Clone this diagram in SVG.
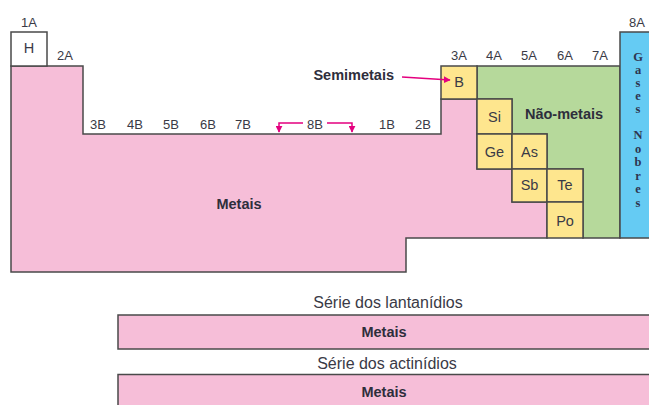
<svg xmlns="http://www.w3.org/2000/svg" width="649" height="405" viewBox="0 0 649 405">
<defs>
<marker id="ah" viewBox="0 0 10 10" refX="9" refY="5" markerWidth="7" markerHeight="7" markerUnits="userSpaceOnUse" orient="auto">
<path d="M0,0 L10,5 L0,10 Z" fill="#e4007f"/>
</marker>
<style>
.ol{stroke:#4a4a4a;stroke-width:1.5;stroke-linejoin:miter}
.pink{fill:#f6bed8}
.green{fill:#b6d99b}
.yellow{fill:#fee68e}
.blue{fill:#65cbf3}
.grp{font-family:"Liberation Sans",Arial,sans-serif;font-size:13px;fill:#3a3a46;text-anchor:middle}
.sym{font-family:"Liberation Sans",Arial,sans-serif;font-size:14.5px;fill:#3a3a46;text-anchor:middle}
.bold{font-family:"Liberation Sans",Arial,sans-serif;font-size:14.5px;font-weight:bold;fill:#2e2e3c;text-anchor:middle}
.ser{font-family:"Liberation Sans",Arial,sans-serif;font-size:16px;fill:#3a3a46;text-anchor:middle}
.vert{font-family:"Liberation Serif","Times New Roman",serif;font-size:12.5px;font-weight:bold;fill:#2e3550;text-anchor:middle}
.arr{fill:none;stroke:#e4007f;stroke-width:1.5}
</style>
</defs>
<rect width="649" height="405" fill="#ffffff"/>

<g id="metais">
<path class="pink ol" d="M11,66 H83 V134 H441 V99 H477 V169 H512 V202 H547 V238 H406 V272 H11 Z"/>
<text class="bold" x="239" y="209">Metais</text>
</g>

<g id="nao-metais">
<path class="green ol" d="M477,66 H620 V238 H583 V169 H547 V134 H512 V99 H477 Z"/>
<text class="bold" x="564" y="119">Não-metais</text>
</g>

<g id="gases-nobres">
<rect class="blue ol" x="620" y="32" width="40" height="206"/>
<text class="vert" x="638" y="61">G</text>
<text class="vert" x="638" y="74">a</text>
<text class="vert" x="638" y="87">s</text>
<text class="vert" x="638" y="100">e</text>
<text class="vert" x="638" y="113">s</text>
<text class="vert" x="638" y="139">N</text>
<text class="vert" x="638" y="152.5">o</text>
<text class="vert" x="638" y="166">b</text>
<text class="vert" x="638" y="179.5">r</text>
<text class="vert" x="638" y="193">e</text>
<text class="vert" x="638" y="206.5">s</text>
</g>

<g id="H">
<rect class="ol" fill="#ffffff" x="11" y="32" width="36" height="34"/>
<text class="sym" x="29" y="53">H</text>
</g>

<g id="B"><rect class="yellow ol" x="441" y="66" width="36" height="33"/><text class="sym" x="459" y="87">B</text></g>
<g id="Si"><rect class="yellow ol" x="477" y="99" width="35" height="35"/><text class="sym" x="494.5" y="121.5">Si</text></g>
<g id="Ge"><rect class="yellow ol" x="477" y="134" width="35" height="35"/><text class="sym" x="494.5" y="157">Ge</text></g>
<g id="As"><rect class="yellow ol" x="512" y="134" width="35" height="35"/><text class="sym" x="529.5" y="157">As</text></g>
<g id="Sb"><rect class="yellow ol" x="512" y="169" width="35" height="33"/><text class="sym" x="529.5" y="190">Sb</text></g>
<g id="Te"><rect class="yellow ol" x="547" y="169" width="36" height="33"/><text class="sym" x="565" y="190">Te</text></g>
<g id="Po"><rect class="yellow ol" x="547" y="202" width="36" height="36"/><text class="sym" x="565" y="226">Po</text></g>

<g id="grupos">
<text class="grp" x="29" y="27">1A</text>
<text class="grp" x="65" y="60">2A</text>
<text class="grp" x="98" y="129">3B</text>
<text class="grp" x="135" y="129">4B</text>
<text class="grp" x="171" y="129">5B</text>
<text class="grp" x="208" y="129">6B</text>
<text class="grp" x="243" y="129">7B</text>
<text class="grp" x="315" y="129">8B</text>
<text class="grp" x="387" y="129">1B</text>
<text class="grp" x="423" y="129">2B</text>
<text class="grp" x="459" y="60">3A</text>
<text class="grp" x="494" y="60">4A</text>
<text class="grp" x="529" y="60">5A</text>
<text class="grp" x="565" y="60">6A</text>
<text class="grp" x="600" y="60">7A</text>
<text class="grp" x="637" y="27">8A</text>
</g>

<g id="semimetais-label">
<text class="bold" x="394" y="80" style="text-anchor:end">Semimetais</text>
</g>

<g id="lantanidios">
<text class="ser" x="388" y="308">Série dos lantanídios</text>
<rect class="pink ol" x="118" y="315" width="545" height="34"/>
<text class="bold" x="384" y="337">Metais</text>
</g>

<g id="actinidios">
<text class="ser" x="387" y="369">Série dos actinídios</text>
<rect class="pink ol" x="118" y="374.5" width="545" height="45"/>
<text class="bold" x="384" y="397">Metais</text>
</g>

<g id="connectors">
<path class="arr" d="M402,77 L450,80" marker-end="url(#ah)"/>
<path class="arr" d="M303,123 H279 V132" marker-end="url(#ah)"/>
<path class="arr" d="M327,123 H352 V132" marker-end="url(#ah)"/>
</g>
</svg>
